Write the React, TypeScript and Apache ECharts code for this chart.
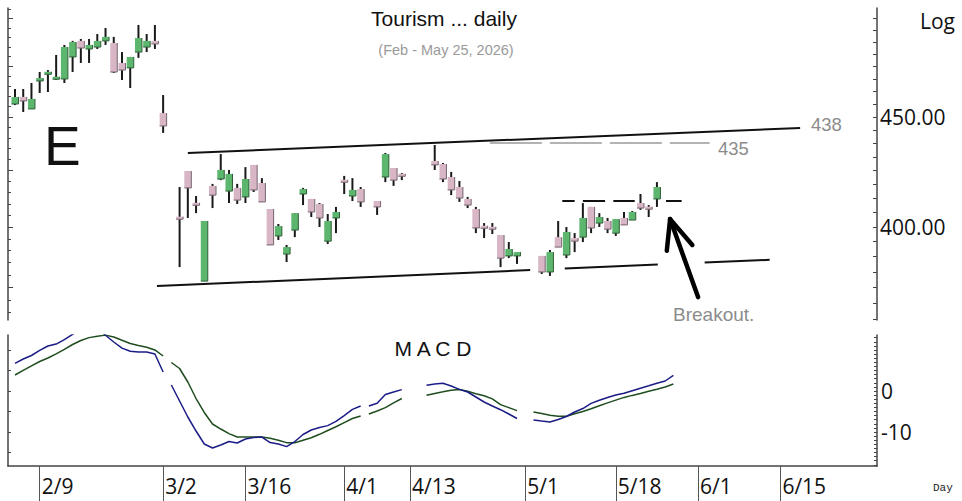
import React, { useEffect, useRef } from 'react';
import * as echarts from 'echarts';

// ---- x axis (trading-day index) ----
const dateTickIdx = [3, 18, 28, 40, 48, 62, 73, 83, 93];
const dateTickLabels = ['2/9', '3/2', '3/16', '4/1', '4/13', '5/1', '5/18', '6/1', '6/15'];

// ---- daily candles ----
const candleIdx = [
  0, 1, 2, 3, 4, 5, 6, 7, 8, 9, 10, 11, 12, 13, 14, 15, 16, 17, 18,
  20, 21, 22, 23, 24, 25, 26, 27, 28, 29, 30, 31, 32, 33, 34, 35, 36, 37, 38, 39, 40, 41, 42,
  44, 45, 46, 47,
  51, 52, 53, 54, 55, 56, 57, 58, 59, 60, 61,
  64, 65, 66, 67, 68, 69, 70, 71, 72, 73, 74, 75, 76, 77, 78,
];
const opens = [
  456.3, 459.8, 453.9, 467.7, 471.2, 468.7, 468.7, 479.9, 488.2, 484.0, 485.0, 488.2, 487.1, 476.8, 474.3, 482.4, 485.0, 488.2, 451.9,
  403.9, 424.7, 410.4, 377.5, 418.0, 421.1, 415.7, 417.1, 413.1, 427.5, 419.3, 407.8, 396.2, 388.6, 398.7, 414.4, 412.2, 410.0, 394.0, 403.9, 420.2, 413.5, 416.6,
  411.3, 422.0, 426.1, 422.9,
  429.3, 427.9, 422.0, 417.5, 412.2, 407.8, 400.0, 399.6, 396.6, 387.8, 387.8,
  387.8, 381.2, 395.7, 388.2, 395.3, 395.7, 408.7, 401.7, 402.6, 397.4, 403.9, 403.0, 410.4, 408.7, 412.2,
];
const closes = [
  459.8, 457.8, 458.8, 469.2, 472.2, 469.7, 485.0, 487.6, 484.5, 486.1, 488.2, 490.3, 472.2, 473.2, 479.9, 489.7, 488.2, 486.6, 445.7,
  403.9, 417.1, 409.5, 402.6, 413.9, 425.2, 423.4, 411.7, 421.1, 416.2, 410.9, 392.4, 400.4, 391.5, 406.0, 416.6, 406.5, 403.9, 402.6, 406.5, 420.2, 416.2, 410.9,
  408.7, 432.5, 420.6, 422.9,
  427.5, 421.1, 416.2, 412.6, 409.5, 399.6, 400.0, 399.6, 386.9, 390.7, 389.4,
  381.2, 389.4, 391.5, 397.9, 394.0, 403.9, 399.6, 404.3, 399.1, 403.4, 400.9, 406.5, 408.2, 407.8, 417.5,
];
const lows = [
  455.8, 452.4, 453.9, 461.7, 462.2, 468.2, 466.7, 472.2, 476.8, 476.8, 484.0, 486.1, 471.7, 468.2, 464.2, 479.4, 482.4, 484.0, 442.4,
  383.2, 403.9, 406.0, 377.5, 408.2, 420.6, 410.4, 410.0, 410.4, 415.3, 410.9, 392.4, 394.5, 385.3, 395.7, 409.5, 404.3, 400.0, 392.8, 397.4, 414.4, 411.3, 408.7,
  405.2, 419.7, 418.0, 420.6,
  425.2, 419.7, 413.9, 410.9, 408.2, 397.4, 395.3, 397.0, 383.2, 386.9, 384.5,
  380.4, 379.6, 391.5, 386.9, 389.4, 393.6, 397.4, 400.0, 397.4, 396.2, 400.9, 403.0, 407.4, 404.3, 408.7,
];
const highs = [
  463.7, 463.7, 466.7, 472.2, 473.2, 480.9, 486.1, 488.2, 489.2, 489.2, 491.8, 495.0, 490.3, 482.4, 479.9, 496.6, 491.8, 496.6, 460.7,
  417.5, 424.7, 413.5, 402.6, 418.9, 432.5, 425.2, 418.9, 426.5, 427.5, 421.5, 407.8, 401.3, 392.4, 406.0, 417.1, 412.2, 410.4, 405.6, 408.7, 422.5, 421.5, 417.5,
  411.3, 433.0, 426.1, 423.8,
  436.7, 428.4, 424.3, 420.2, 413.1, 408.7, 401.7, 401.7, 396.6, 393.6, 389.4,
  387.8, 390.3, 402.6, 400.0, 397.4, 410.4, 408.7, 406.0, 403.9, 403.4, 406.5, 406.9, 414.4, 409.5, 419.7,
];

// ---- MACD (index 0..80), null = no value ----
const macdLine = [
  6.76, 7.8, 8.66, 9.9, 10.98, 11.44, 12.54, 13.83, 15.2, 16.0,
  15.3, 13.6, 11.95, 10.46, 9.68, 9.51, 9.51, 9.02, 4.63, 1.46,
  -2.44, -6.34, -9.76, -12.93, -13.9, -13.17, -12.32, -12.68, -11.71, -11.34,
  -11.22, -12.56, -12.93, -13.56, -12.32, -10.61, -9.51, -8.88, -8.44, -7.41,
  -5.98, -4.49, -3.66, -3.66, -3.0, -0.85, -0.24, 0.34, null, null,
  1.41, 1.71, 1.88, 1.22, 0.39, -0.24, -1.46, -2.68, -3.66, -4.56,
  -5.61, -6.71, null, -7.07, -7.32, -7.56, -6.95, -6.22, -5.12, -4.27,
  -3.02, -2.24, -1.59, -0.98, -0.54, 0.07, 0.68, 1.27, 1.9, 2.44, 3.8,
];
const signalLine = [
  3.9, 5.02, 6.12, 7.2, 8.05, 9.07, 10.15, 11.34, 12.32, 13.02,
  13.37, 13.63, 13.17, 12.37, 11.59, 11.1, 10.68, 10.02, 8.54, 6.95,
  5.49, 2.2, -1.83, -5.24, -8.05, -9.27, -10.39, -11.2, -11.22, -11.22,
  -11.22, -11.54, -12.02, -12.59, -12.63, -12.0, -11.41, -10.56, -9.63, -8.71,
  -7.71, -6.71, -6.1, -5.61, -4.88, -4.05, -2.88, -1.83, null, null,
  -1.02, -0.59, -0.2, 0.2, 0.39, -0.07, -0.66, -1.15, -1.93, -3.32,
  -4.05, -4.78, null, -5.12, -5.49, -5.93, -6.17, -6.17, -5.54, -5.0,
  -4.32, -3.59, -2.9, -2.22, -1.56, -1.07, -0.61, -0.07, 0.44, 0.98, 1.7,
];
const macdBreaks = [19, 43];

// ---- axis labels ----
const priceLabels = [400, 450];
const macdLabels = [0, -10];

// ---- annotations: [index, price] ----
const upperTrend = [[21.0, 433.0], [95.4, 444.7]];
const level435 = [[57.7, 437.6], [84.4, 437.6]];
const lowerTrendParts = [
  [[17.25, 375.5], [62.6, 382.0]],
  [[66.8, 382.6], [78.1, 384.3]],
  [[83.8, 385.1], [91.7, 386.2]],
];
const breakoutDashes = [
  [[66.5, 411.3], [68.0, 411.3]],
  [[69.0, 411.3], [71.7, 411.3]],
  [[72.7, 411.3], [75.3, 411.3]],
  [[79.1, 411.3], [81.0, 411.3]],
];
const arrowParts = [
  [[83.0, 371.1], [79.6, 403.4]],
  [[79.6, 403.4], [79.2, 390.0]],
  [[79.6, 403.4], [82.3, 392.4]],
];

const X_MIN = -0.85;
const X_MAX = 104.74;
const P_MIN = 362.1;
const P_MAX = 505.7;
const M_MIN = -18.29;
const M_MAX = 13.66;

const AXIS_FONT = 'Open Sans';
const AXIS_COLOR = '#444';

function range(a: number, b: number, step: number) {
  const out: number[] = [];
  for (let v = a; v <= b + 1e-9; v += step) out.push(Math.round(v * 1000) / 1000);
  return out;
}

function buildOption() {
  const candleData = candleIdx.map((i, k) => [
    i,
    Math.log(opens[k]),
    Math.log(closes[k]),
    Math.log(lows[k]),
    Math.log(highs[k]),
  ]);

  const segBounds = [0, ...macdBreaks, macdLine.length];
  const lineSeries: any[] = [];
  const addSegments = (values: (number | null)[], color: string, z: number) => {
    for (let s = 0; s < segBounds.length - 1; s++) {
      const data: any[] = [];
      for (let i = segBounds[s]; i < segBounds[s + 1]; i++) {
        data.push([i, values[i] == null ? '-' : values[i]]);
      }
      lineSeries.push({
        type: 'line',
        xAxisIndex: 1,
        yAxisIndex: 3,
        data,
        showSymbol: false,
        symbol: 'none',
        connectNulls: false,
        clip: true,
        z,
        lineStyle: { color, width: 1.5 },
        silent: true,
      });
    }
  };
  addSegments(signalLine, '#1f4d1f', 2);
  addSegments(macdLine, '#1c1c86', 3);

  const seg = (pts: number[][], style: any) => [
    { coord: [pts[0][0], Math.log(pts[0][1])], lineStyle: style },
    { coord: [pts[1][0], Math.log(pts[1][1])] },
  ];
  const solidBlack = { color: '#111', width: 2, type: 'solid' };
  const markData: any[] = [
    seg(upperTrend, solidBlack),
    seg(level435, { color: '#9a9a9a', width: 1.5, type: [52, 8] }),
    ...lowerTrendParts.map((p) => seg(p, solidBlack)),
    ...breakoutDashes.map((p) => seg(p, { color: '#111', width: 2, type: 'solid' })),
    ...arrowParts.map((p) => seg(p, { color: '#000', width: 4.5, type: 'solid', cap: 'round' })),
  ];

  const priceRightTicks = range(362.5, 500, 6.25).map((v) => Math.log(v));
  const priceLeftMinor = range(365, 505, 5).map((v) => Math.log(v));
  const priceLeftMajor = range(375, 500, 25).map((v) => Math.log(v));

  const text = (t: string, x: number, y: number, size: number, opts: any = {}) => ({
    type: 'text',
    x,
    y,
    silent: true,
    style: {
      text: t,
      fontSize: size,
      fontFamily: opts.family || 'Liberation Sans',
      fill: opts.fill || '#111',
      textAlign: opts.align || 'left',
      textVerticalAlign: opts.valign || 'middle',
    },
  });

  return {
    animation: false,
    backgroundColor: '#ffffff',
    grid: [
      { left: 8, top: 8, width: 869, height: 312 },
      { left: 8, top: 335, width: 869, height: 131 },
    ],
    xAxis: [
      {
        type: 'value',
        gridIndex: 0,
        min: X_MIN,
        max: X_MAX,
        show: false,
      },
      {
        type: 'value',
        gridIndex: 1,
        min: X_MIN,
        max: X_MAX,
        axisLine: { show: true, onZero: false, lineStyle: { color: AXIS_COLOR, width: 1.5 } },
        splitLine: { show: false },
        axisTick: {
          show: true,
          customValues: dateTickIdx,
          length: 36,
          lineStyle: { color: '#555', width: 1 },
        },
        axisLabel: {
          show: true,
          customValues: dateTickIdx,
          formatter: (v: number) => {
            const k = dateTickIdx.indexOf(Math.round(v));
            return k >= 0 ? dateTickLabels[k] : '';
          },
          align: 'left',
          verticalAlign: 'top',
          margin: 9,
          padding: [0, 0, 0, 2],
          fontSize: 21,
          fontFamily: AXIS_FONT,
          color: '#111',
        },
      },
    ],
    yAxis: [
      {
        type: 'value',
        gridIndex: 0,
        position: 'right',
        min: Math.log(P_MIN),
        max: Math.log(P_MAX),
        axisLine: { show: true, onZero: false, lineStyle: { color: AXIS_COLOR, width: 1.5 } },
        splitLine: { show: false },
        axisTick: { show: true, inside: true, length: 4, customValues: priceRightTicks, lineStyle: { color: AXIS_COLOR } },
        axisLabel: {
          show: true,
          customValues: priceLabels.map((v) => Math.log(v)),
          formatter: (v: number) => Math.exp(v).toFixed(2),
          margin: 3,
          fontSize: 21,
          fontFamily: AXIS_FONT,
          color: '#111',
        },
      },
      {
        type: 'value',
        gridIndex: 0,
        position: 'left',
        min: Math.log(P_MIN),
        max: Math.log(P_MAX),
        axisLine: { show: true, onZero: false, lineStyle: { color: AXIS_COLOR, width: 1.5 } },
        splitLine: { show: false },
        axisTick: { show: true, inside: true, length: 3, customValues: priceLeftMinor, lineStyle: { color: AXIS_COLOR } },
        axisLabel: { show: false },
      },
      {
        type: 'value',
        gridIndex: 0,
        position: 'left',
        min: Math.log(P_MIN),
        max: Math.log(P_MAX),
        axisLine: { show: false, onZero: false },
        splitLine: { show: false },
        axisTick: { show: true, inside: true, length: 5, customValues: priceLeftMajor, lineStyle: { color: AXIS_COLOR } },
        axisLabel: { show: false },
      },
      {
        type: 'value',
        gridIndex: 1,
        position: 'right',
        min: M_MIN,
        max: M_MAX,
        axisLine: { show: true, onZero: false, lineStyle: { color: AXIS_COLOR, width: 1.5 } },
        splitLine: { show: false },
        axisTick: { show: true, inside: true, length: 3, customValues: range(-18, 13, 1), lineStyle: { color: AXIS_COLOR } },
        axisLabel: {
          show: true,
          customValues: macdLabels,
          formatter: (v: number) => String(Math.round(v)),
          margin: 4,
          fontSize: 21,
          fontFamily: AXIS_FONT,
          color: '#111',
        },
      },
      {
        type: 'value',
        gridIndex: 1,
        position: 'left',
        min: M_MIN,
        max: M_MAX,
        axisLine: { show: true, onZero: false, lineStyle: { color: AXIS_COLOR, width: 1.5 } },
        splitLine: { show: false },
        axisTick: { show: true, inside: true, length: 3, customValues: range(-15, 10, 5), lineStyle: { color: AXIS_COLOR } },
        axisLabel: { show: false },
      },
    ],
    series: [
      {
        type: 'custom',
        xAxisIndex: 0,
        yAxisIndex: 0,
        clip: true,
        silent: true,
        data: candleData,
        encode: { x: 0, y: [1, 2, 3, 4] },
        renderItem: (params: any, api: any) => {
          const i = api.value(0);
          const o = api.value(1);
          const c = api.value(2);
          const l = api.value(3);
          const h = api.value(4);
          const pO = api.coord([i, o]);
          const pC = api.coord([i, c]);
          const pL = api.coord([i, l]);
          const pH = api.coord([i, h]);
          const up = c > o;
          const x = pO[0];
          let top = Math.min(pO[1], pC[1]);
          let bot = Math.max(pO[1], pC[1]);
          if (bot - top < 2.5) {
            const m = (top + bot) / 2;
            top = m - 1.25;
            bot = m + 1.25;
          }
          const w = 7;
          return {
            type: 'group',
            children: [
              {
                type: 'line',
                shape: { x1: x, y1: pH[1], x2: x, y2: pL[1] },
                style: { stroke: '#1a1a1a', lineWidth: 2 },
              },
              {
                type: 'rect',
                shape: { x: x - w / 2, y: top, width: w, height: bot - top },
                style: { fill: up ? '#5db66d' : '#d8b6c6', stroke: null },
              },
              {
                type: 'polyline',
                shape: { points: [[x - w / 2, bot], [x + w / 2, bot], [x + w / 2, top]] },
                style: { stroke: up ? '#2f5f38' : '#756570', lineWidth: 1, fill: null },
              },
            ],
          };
        },
      },
      {
        type: 'line',
        xAxisIndex: 0,
        yAxisIndex: 0,
        data: [],
        silent: true,
        markLine: {
          silent: true,
          symbol: ['none', 'none'],
          label: { show: false },
          emphasis: { disabled: true },
          animation: false,
          data: markData,
        },
      },
      ...lineSeries,
    ],
    graphic: [
      text('Tourism ... daily', 444, 18, 21, { align: 'center' }),
      text('(Feb - May 25, 2026)', 446, 50, 14.5, { align: 'center', fill: '#9a9a9a' }),
      text('E', 44, 146, 55),
      text('Log', 920, 21, 21, { family: AXIS_FONT }),
      text('438', 811, 124.5, 18.5, { fill: '#8c8c8c' }),
      text('435', 718, 148.5, 18.5, { fill: '#8c8c8c' }),
      text('Breakout.', 673, 314, 19, { fill: '#8c8c8c' }),
      text('M A C D', 433, 348, 21, { align: 'center' }),
      text('Day', 933, 488, 11, { family: 'Liberation Mono', fill: '#222' }),
    ],
  };
}

export default function App() {
  const ref = useRef<HTMLDivElement>(null);
  useEffect(() => {
    document.body.style.margin = '0';
    const chart = echarts.init(ref.current as HTMLDivElement, null, { renderer: 'svg' });
    chart.setOption(buildOption() as any);
    return () => chart.dispose();
  }, []);
  return <div ref={ref} style={{ width: 962, height: 501, background: '#fff' }} />;
}
